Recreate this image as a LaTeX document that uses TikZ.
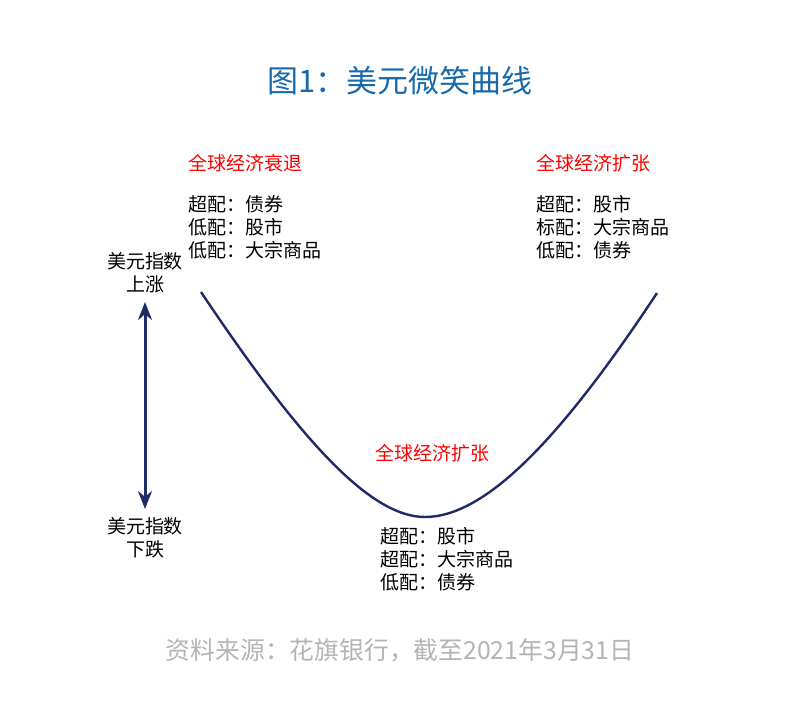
\documentclass[tikz,border=0pt]{standalone}
\usepackage{fontspec}
\setmainfont{Noto Sans CJK SC}
\usetikzlibrary{arrows.meta}
\definecolor{titleblue}{HTML}{1769AC}
\definecolor{navy}{HTML}{1F2A66}
\definecolor{srcgray}{HTML}{B4B4B4}
\begin{document}
\begin{tikzpicture}[x=0.5pt,y=-0.5pt,
    head/.style={anchor=west,text=red,font=\fontsize{9.5}{11.5}\selectfont,inner sep=0pt},
    alloc/.style={anchor=north west,align=left,font=\fontsize{9.5}{11.5}\selectfont,inner sep=0pt},
    axis/.style={align=center,font=\fontsize{9.5}{11.5}\selectfont,inner sep=0pt}]
        \useasboundingbox (0,0) rectangle (800,723);
        \node (title) at (400,81) [text=titleblue,font=\fontsize{15.5}{18}\selectfont] {图1：美元微笑曲线};

        \node (lhead) at (188,163) [head] {全球经济衰退};
        \node (lbox) at (188,195) [alloc] {超配：债券\\低配：股市\\低配：大宗商品};
        \node (rhead) at (536,163) [head] {全球经济扩张};
        \node (rbox) at (536,195) [alloc] {超配：股市\\标配：大宗商品\\低配：债券};
        \node (mhead) at (375,453) [head] {全球经济扩张};
        \node (mbox) at (380,527) [alloc] {超配：股市\\超配：大宗商品\\低配：债券};

        \node (up) at (145,273) [axis] {美元指数\\上涨};
        \node (down) at (145,538) [axis] {美元指数\\下跌};
        \draw [navy,line width=1.5pt,{Stealth[length=9pt,width=7pt]}-{Stealth[length=9pt,width=7pt]}] (145,302) -- (145,509);

        \coordinate (l) at (201,292);
        \coordinate (m) at (425,517);
        \coordinate (r) at (657,293);
        \draw [navy,line width=1.2pt] (l) .. controls (300,440) and (370,517) .. (m)
            .. controls (485,517) and (560,440) .. (r);

        \node (src) at (400,650) [text=srcgray,font=\fontsize{12.4}{14}\selectfont] {资料来源：花旗银行，截至2021年3月31日};
      \end{tikzpicture}
\end{document}
